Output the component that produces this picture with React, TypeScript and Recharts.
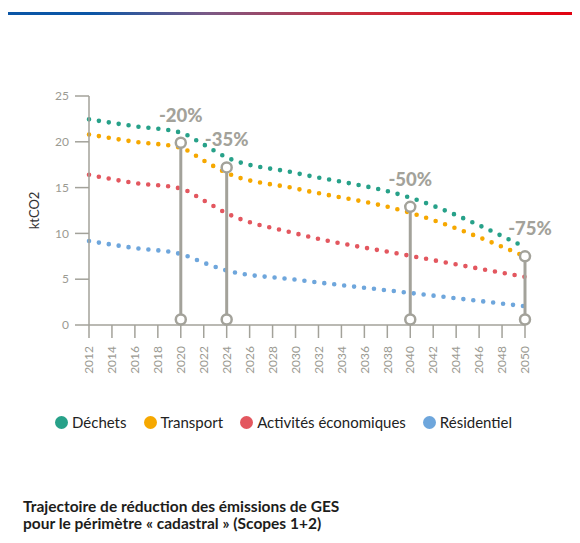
import {
  LineChart,
  Line,
  XAxis,
  YAxis,
  ReferenceLine,
  ReferenceDot,
} from 'recharts'

const years = [2012, 2016, 2020, 2022, 2024, 2030, 2040, 2050]
const dechets = [22.45, 21.7, 21.0, 19.7, 18.3, 16.6, 13.9, 8.5]
const transport = [20.8, 20.0, 19.35, 17.95, 16.6, 14.9, 12.25, 7.5]
const activites = [16.4, 15.5, 14.9, 13.6, 12.2, 10.0, 7.55, 5.25]
const residentiel = [9.17, 8.4, 7.75, 6.8, 5.95, 4.95, 3.5, 2.05]

const yearTicks = [
  2012, 2014, 2016, 2018, 2020, 2022, 2024, 2026, 2028, 2030, 2032, 2034, 2036,
  2038, 2040, 2042, 2044, 2046, 2048, 2050,
]
const valueTicks = [0, 5, 10, 15, 20, 25]

const markerYears = [2020, 2024, 2040, 2050]
const markerTops = [19.9, 17.2, 12.9, 7.5]
const markerBase = 0.6
const markerLabels = ['-20%', '-35%', '-50%', '-75%']

const titleLines = [
  'Trajectoire de réduction des émissions de GES',
  'pour le périmètre « cadastral » (Scopes 1+2)',
]

const series = [
  { key: 'dechets', name: 'Déchets', color: '#27a189' },
  { key: 'transport', name: 'Transport', color: '#f6a800' },
  { key: 'activites', name: 'Activités économiques', color: '#e3575f' },
  { key: 'residentiel', name: 'Résidentiel', color: '#6ea6dc' },
]

const data = years.map((year, i) => ({
  year,
  dechets: dechets[i],
  transport: transport[i],
  activites: activites[i],
  residentiel: residentiel[i],
}))

const GREY = '#a3a29a'
const FONT = 'Lato, "Open Sans", sans-serif'

const YearTick = (props: any) => {
  const { x, y, payload } = props
  return (
    <text
      x={x}
      y={y}
      transform={`rotate(-90 ${x} ${y})`}
      textAnchor="end"
      dy="0.35em"
      fill="#9b9a92"
      fontSize={12}
      fontFamily={FONT}
    >
      {payload.value}
    </text>
  )
}

export default function App() {
  return (
    <div
      style={{
        position: 'relative',
        width: 580,
        height: 543,
        margin: '-8px 0 0 -8px',
        background: '#fff',
        overflow: 'hidden',
        fontFamily: FONT,
      }}
    >
      {/* frame */}
      <div
        style={{
          position: 'absolute',
          left: 5,
          top: 12,
          width: 575,
          height: 2.5,
          background:
            'linear-gradient(90deg, #0b56a6 0%, #0b56a6 15%, #7a5a86 35%, #c8303f 60%, #e3000f 100%)',
        }}
      />
      <div
        style={{
          position: 'absolute',
          left: 5,
          top: 12,
          width: 2.5,
          height: 531,
          background: '#0b56a6',
        }}
      />

      <div style={{ position: 'absolute', left: 0, top: 0 }}>
        <LineChart
          width={580}
          height={400}
          data={data}
          margin={{ top: 96, right: 55, bottom: 25, left: 0 }}
        >
          <XAxis
            dataKey="year"
            type="number"
            domain={[2012, 2050]}
            ticks={yearTicks}
            interval={0}
            height={50}
            tickSize={13}
            tickMargin={8}
            stroke={GREY}
            strokeWidth={1.5}
            tick={<YearTick />}
          />
          <YAxis
            domain={[0, 25]}
            ticks={valueTicks}
            width={89}
            tickSize={14}
            tickMargin={6}
            stroke={GREY}
            strokeWidth={1.5}
            tick={{ fill: '#9b9a92', fontSize: 12, fontFamily: FONT }}
            label={{
              value: 'ktCO2',
              angle: -90,
              position: 'insideLeft',
              offset: 34,
              style: { textAnchor: 'middle', fill: '#333', fontSize: 13, fontFamily: FONT },
            }}
          />
          {series.map((s) => (
            <Line
              key={s.key}
              type="monotone"
              dataKey={s.key}
              name={s.name}
              stroke={s.color}
              strokeWidth={4.6}
              strokeDasharray="0 10"
              strokeLinecap="round"
              dot={false}
              activeDot={false}
              isAnimationActive={false}
            />
          ))}
          {markerYears.map((yr, i) => (
            <ReferenceLine
              key={`l${yr}`}
              segment={[
                { x: yr, y: markerBase },
                { x: yr, y: markerTops[i] },
              ]}
              stroke={GREY}
              strokeWidth={3}
            />
          ))}
          {markerYears.map((yr) => (
            <ReferenceDot
              key={`b${yr}`}
              x={yr}
              y={markerBase}
              r={5}
              fill="#fff"
              stroke={GREY}
              strokeWidth={2.5}
            />
          ))}
          {markerYears.map((yr, i) => (
            <ReferenceDot
              key={`t${yr}`}
              x={yr}
              y={markerTops[i]}
              r={5}
              fill="#fff"
              stroke={GREY}
              strokeWidth={2.5}
              label={{
                value: markerLabels[i],
                position: 'top',
                offset: 16,
                dx: i === markerYears.length - 1 ? 5 : 0,
                fill: GREY,
                fontSize: 18.5,
                fontWeight: 900,
                fontFamily: FONT,
              }}
            />
          ))}
        </LineChart>
      </div>

      {/* legend */}
      <div
        style={{
          position: 'absolute',
          left: 55,
          top: 413,
          display: 'flex',
          alignItems: 'center',
          fontSize: 15,
          color: '#222',
          whiteSpace: 'nowrap',
        }}
      >
        {series.map((s, i) => (
          <div
            key={s.key}
            style={{ display: 'flex', alignItems: 'center', marginLeft: i === 0 ? 0 : 17 }}
          >
            <span
              style={{
                display: 'inline-block',
                width: 13,
                height: 13,
                borderRadius: '50%',
                background: s.color,
                marginRight: 4,
              }}
            />
            {s.name}
          </div>
        ))}
      </div>

      {/* title */}
      {titleLines.map((line, i) => (
        <div
          key={i}
          style={{
            position: 'absolute',
            left: 23,
            top: 499 + i * 17,
            fontSize: 15.5,
            lineHeight: '15px',
            fontWeight: 700,
            color: '#1d1d1b',
            whiteSpace: 'nowrap',
          }}
        >
          {line}
        </div>
      ))}
    </div>
  )
}
